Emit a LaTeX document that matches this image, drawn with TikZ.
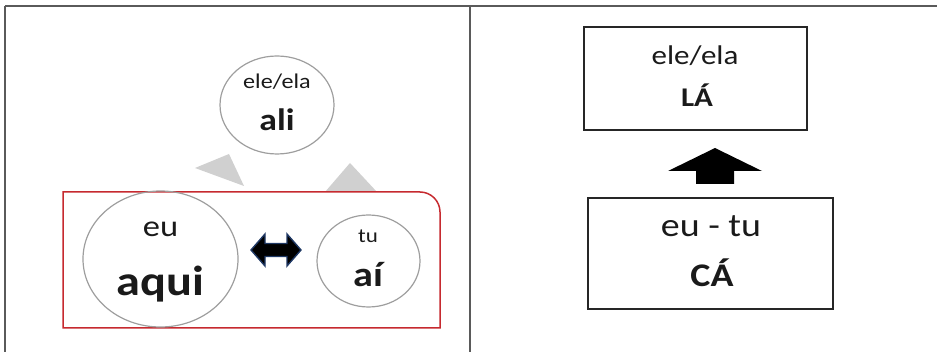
\documentclass[tikz,border=0pt]{standalone}
\usepackage{fontspec}
\setmainfont{Carlito}[FakeStretch=1.15]
\usetikzlibrary{shapes.geometric}
\definecolor{ringgray}{HTML}{9E9E9E}
\definecolor{tipgray}{HTML}{D0D0D0}
\definecolor{framered}{HTML}{C62A2F}
\definecolor{rulegray}{HTML}{5A5A5A}
\definecolor{edgeblue}{HTML}{1F3864}
\definecolor{ink}{HTML}{1A1A1A}
\tikzset{
  ring/.style={ellipse, draw=ringgray, line width=1.2pt, inner sep=0pt},
  word/.style={anchor=base, inner sep=0pt, text=ink},
  panelbox/.style={draw=black!85, line width=1.3pt},
  tablerule/.style={draw=rulegray, line width=1.6pt},
}
\begin{document}
\begin{tikzpicture}[x=1pt, y=-1pt]
\useasboundingbox (0,0) rectangle (937,352);

% table rules
\coordinate (tl) at (5,6);
\coordinate (tr) at (937,6);
\coordinate (bl) at (5,352);
\coordinate (mt) at (470,6);
\coordinate (mb) at (470,352);
\draw[tablerule] (tl) -- (tr);
\draw[tablerule] (tl) -- (bl);
\draw[tablerule] (mt) -- (mb);

% ---- left panel ----
\node[ring, minimum width=114pt, minimum height=98pt] (ali) at (277,105) {};
\node[word, font=\fontsize{21}{21}\selectfont] (aliTop) at (277,89) {ele/ela};
\node[word, font=\fontsize{31}{31}\selectfont\bfseries] (aliWord) at (277,131) {ali};

% grey pointers toward the upper circle
\fill[tipgray] (195,168) -- (229,154) -- (244,186) -- cycle;
\fill[tipgray] (350,163) -- (325,192) -- (377,192) -- cycle;

% red group frame, rounded at the upper right only
\draw[framered, line width=1.5pt]
  (63,328) -- (63,192) -- (420,192)
  .. controls (431,192) and (440,201) .. (440,212)
  -- (440,328) -- cycle;

\node[ring, minimum width=155pt, minimum height=136pt] (aqui) at (160.5,259) {};
\node[word, font=\fontsize{30}{30}\selectfont] (euWord) at (160.5,237) {eu};
\node[word, font=\fontsize{42}{42}\selectfont\bfseries] (aquiWord) at (160.5,296) {aqui};

\node[ring, minimum width=103pt, minimum height=92pt] (ai) at (368.5,261) {};
\node[word, font=\fontsize{20}{20}\selectfont] (tuWord) at (368,243) {tu};
\node[word, font=\fontsize{35}{35}\selectfont\bfseries] (aiWord) at (368,287) {aí};

% two-way arrow between the circles
\filldraw[fill=black, draw=edgeblue, line width=1.4pt, line join=miter]
  (251,250) -- (265,234) -- (265,243.5) -- (287,243.5) -- (287,234)
  -- (301,250) -- (287,266) -- (287,256.5) -- (265,256.5) -- (265,266) -- cycle;

% ---- right panel ----
\node[panelbox, minimum width=223pt, minimum height=103pt, inner sep=0pt] (la) at (695.5,78.5) {};
\node[word, font=\fontsize{27}{27}\selectfont] (laTop) at (695,65) {ele/ela};
\node[word, font=\fontsize{27}{27}\selectfont\bfseries] (laWord) at (697,107) {LÁ};

\node[panelbox, minimum width=245pt, minimum height=111pt, inner sep=0pt] (ca) at (710.5,253.5) {};
\node[word, font=\fontsize{33}{33}\selectfont] (caTop) at (711,237) {eu - tu};
\node[word, font=\fontsize{33}{33}\selectfont\bfseries] (caWord) at (712,287) {CÁ};

% block arrow from the lower box up to the upper box
\fill[black] (715,148) -- (762,171) -- (734,171) -- (734,184)
  -- (696,184) -- (696,171) -- (668,171) -- cycle;
\end{tikzpicture}
\end{document}
